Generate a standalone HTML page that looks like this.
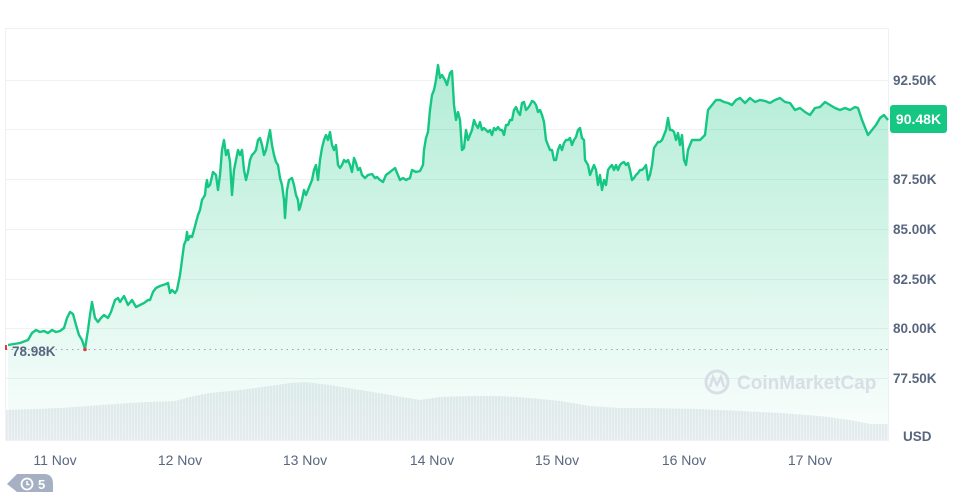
<!DOCTYPE html>
<html><head><meta charset="utf-8"><style>
html,body{margin:0;padding:0;background:#fff;}
body{width:960px;height:492px;overflow:hidden;font-family:"Liberation Sans",sans-serif;}
</style></head><body>
<svg width="960" height="492" viewBox="0 0 960 492" xmlns="http://www.w3.org/2000/svg">
<defs>
<linearGradient id="g" gradientUnits="userSpaceOnUse" x1="0" y1="65" x2="0" y2="440">
<stop offset="0" stop-color="#16c784" stop-opacity="0.33"/>
<stop offset="1" stop-color="#16c784" stop-opacity="0.02"/>
</linearGradient>
<pattern id="vp" width="3" height="10" patternUnits="userSpaceOnUse">
<rect width="2.2" height="10" fill="#e9ecf0"/><rect x="2.2" width="0.8" height="10" fill="#f3f4f7"/>
</pattern>
</defs>
<rect x="5.5" y="28.5" width="883" height="412" fill="none" stroke="#eff1f4"/>
<g stroke="#eff1f4" stroke-width="1">
<line x1="6" y1="80.5" x2="888" y2="80.5"/>
<line x1="6" y1="129.5" x2="888" y2="129.5"/>
<line x1="6" y1="179.5" x2="888" y2="179.5"/>
<line x1="6" y1="229.5" x2="888" y2="229.5"/>
<line x1="6" y1="279.5" x2="888" y2="279.5"/>
<line x1="6" y1="328.5" x2="888" y2="328.5"/>
<line x1="6" y1="378.5" x2="888" y2="378.5"/>
</g>
<polygon fill="url(#vp)" points="6,440 6,410 60,408 100,405 130,403 150,402 175,401 190,397 210,393 240,390 270,386 290,383 305,382 330,385 360,390 390,395 420,400 440,397 470,396 500,396 530,398 560,401 590,406 620,408 650,408 700,409 740,411 780,413 820,416 850,420 870,424 888,424 888,440"/>
<path id="p" fill="url(#g)" stroke="none" d=""/>
<g fill="#d5dae3" font-size="19" font-weight="bold" opacity="0.85">
<circle cx="717" cy="382" r="11" fill="none" stroke="#d5dae3" stroke-width="3"/>
<path d="M710,387 L713,377 L717,385 L721,377 L724,387" fill="none" stroke="#d5dae3" stroke-width="2.5"/>
<text x="737" y="389">CoinMarketCap</text>
</g>
<line x1="6" y1="349.5" x2="888" y2="349.5" stroke="#9aa3b3" stroke-dasharray="1.5,4"/>
<polyline id="l" fill="none" stroke="#16c784" stroke-width="2.4" stroke-linejoin="round" points="8,345 20,343 28,340 32,333 36,330 40,332 44,331 48,333 52,330 56,332 60,331 64,328 67,318 70,312 73,314 76,325 79,335 82,340 85,349 88,330 90,315 92,302 95,318 98,322 101,318 104,315 108,318 111,312 115,300 118,298 120,302 124,296 128,305 132,300 136,307 140,305 144,303 148,300 150,300 153,292 156,288 160,286 163,285 166,284 168,283 170,293 172,290 175,293 177,290 180,275 182,260 184,245 186,240 187,232 188,240 190,236 192,237 194,230 198,215 200,210 202,200 205,195 206,185 207,180 208,187 210,185 213,172 216,175 218,190 220,175 222,150 224,140 226,155 228,150 230,162 232,195 234,170 236,160 238,150 240,155 242,150 244,170 246,180 248,172 250,160 252,155 254,153 256,150 258,140 260,138 262,145 264,155 266,150 268,140 270,130 272,145 274,155 276,162 278,165 280,178 282,185 284,200 285,218 287,190 289,180 292,178 294,185 296,195 298,200 299,210 300,208 302,200 304,190 306,195 308,190 310,185 312,180 314,170 316,165 318,180 320,160 322,148 324,140 326,135 328,140 330,132 332,145 334,150 336,145 338,165 340,168 342,165 344,160 346,162 348,160 350,165 352,172 354,158 356,163 358,170 360,168 362,175 365,178 368,175 372,174 375,178 377,177 380,180 383,182 386,175 390,172 395,168 400,180 403,178 406,180 410,178 412,170 416,172 420,171 423,165 424,150 426,138 428,132 430,110 432,95 434,90 436,80 438,65 440,78 442,75 445,80 447,85 450,73 452,71 454,105 456,120 458,112 460,120 462,150 464,148 466,130 468,140 470,135 472,130 474,120 476,125 478,128 480,122 482,130 484,128 486,130 488,132 490,130 492,135 494,128 496,130 498,127 500,130 502,130 504,135 506,125 508,125 510,120 512,120 514,110 516,107 518,112 520,115 522,103 524,102 526,110 528,108 530,105 532,101 534,102 536,105 538,112 540,110 542,115 544,122 546,140 548,145 550,150 552,150 554,160 556,160 558,150 560,145 562,150 564,143 566,140 568,140 570,138 572,145 574,140 576,137 578,130 580,128 582,138 584,140 585,160 588,165 590,175 592,170 594,165 596,170 598,185 600,175 602,190 604,180 606,185 608,170 610,167 612,165 614,170 616,165 618,170 620,165 622,163 624,162 626,165 628,163 630,170 632,180 634,178 636,175 638,173 640,170 642,170 644,168 646,165 648,180 650,175 652,165 654,148 656,145 658,142 660,142 662,140 664,135 666,130 668,118 670,130 672,130 674,132 676,140 678,133 680,145 682,135 684,160 686,165 688,150 690,145 692,140 695,140 700,140 705,135 708,110 712,105 716,100 720,100 724,102 728,103 732,105 736,100 740,98 745,103 750,98 755,102 760,100 765,101 770,103 775,100 780,98 785,102 790,103 795,110 800,108 805,112 810,115 815,108 820,107 825,102 830,105 835,108 840,110 845,108 850,110 855,107 858,108 862,120 868,135 872,130 876,125 880,118 884,115 888,120"/>
<circle cx="85" cy="349.5" r="1.8" fill="#ea3943"/>
<rect x="5" y="345" width="2" height="5" fill="#ea3943"/>
<g fill="#58667e" font-size="13.5" font-weight="bold">
<text x="893" y="85">92.50K</text>
<text x="893" y="184">87.50K</text>
<text x="893" y="234">85.00K</text>
<text x="893" y="284">82.50K</text>
<text x="893" y="333">80.00K</text>
<text x="893" y="383">77.50K</text>
<text x="903" y="441">USD</text>
<text x="12" y="356">78.98K</text>
</g>
<rect x="890" y="105" width="57" height="28" rx="3" fill="#16c784"/>
<text x="918.5" y="124" fill="#fff" font-size="14" font-weight="bold" text-anchor="middle">90.48K</text>
<g fill="#58667e" font-size="14" text-anchor="middle">
<text x="55" y="465">11 Nov</text>
<text x="180" y="465">12 Nov</text>
<text x="305" y="465">13 Nov</text>
<text x="432" y="465">14 Nov</text>
<text x="557" y="465">15 Nov</text>
<text x="684" y="465">16 Nov</text>
<text x="810" y="465">17 Nov</text>
</g>
<path d="M7,484 L17,474 L44,474 Q53,474 53,484 L53,492 L17,492 Z" fill="#a6b0c3"/>
<circle cx="27" cy="484" r="5.5" fill="none" stroke="#fff" stroke-width="1.8"/>
<path d="M27,481 V484.5 H29.5" fill="none" stroke="#fff" stroke-width="1.5"/>
<text x="38" y="489" fill="#fff" font-size="13" font-weight="bold">5</text>
</svg>
<script>
var l=document.getElementById('l').getAttribute('points').trim();
document.getElementById('p').setAttribute('d','M8,440 L'+l.replace(/ /g,' L')+' L888,440 Z');
</script>
</body></html>
